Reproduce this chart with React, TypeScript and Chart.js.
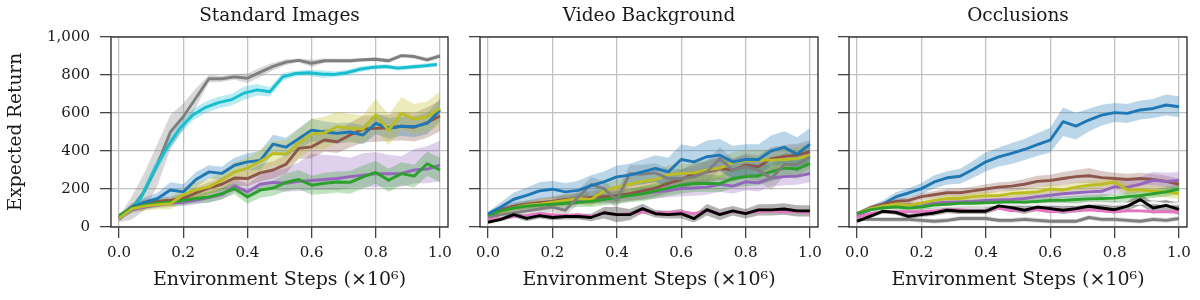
import React, { useEffect, useRef } from "react";
import { Chart, registerables } from "chart.js";

Chart.register(...registerables);

// ---------------- data ----------------
const steps = [0, 0.04, 0.08, 0.12, 0.16, 0.2, 0.24, 0.28, 0.32, 0.36, 0.4, 0.44, 0.48, 0.52, 0.56, 0.6, 0.64, 0.68, 0.72, 0.76, 0.8, 0.84, 0.88, 0.92, 0.96, 1.0];
const cyanSteps = [0.03, 0.07, 0.11, 0.15, 0.19, 0.23, 0.27, 0.31, 0.35, 0.39, 0.43, 0.47, 0.51, 0.55, 0.59, 0.63, 0.67, 0.71, 0.75, 0.79, 0.83, 0.87, 0.91, 0.95, 0.99];

const xTickValues = [0, 0.2, 0.4, 0.6, 0.8, 1.0];
const yTickValues = [0, 200, 400, 600, 800, 1000];
const yTickLabels = ["0", "200", "400", "600", "800", "1,000"];
const panelTitles = ["Standard Images", "Video Background", "Occlusions"];
const xAxisTitle = "Environment Steps (×10⁶)";
const yAxisTitle = "Expected Return";

// Standard Images
const stdGray = [40, 100, 190, 330, 500, 580, 680, 780, 780, 790, 783, 815, 845, 868, 877, 862, 875, 875, 875, 880, 883, 875, 902, 897, 880, 900];
const stdGraySpread = [15, 60, 100, 110, 90, 70, 50, 20, 15, 15, 25, 25, 20, 15, 10, 20, 12, 10, 10, 10, 10, 12, 10, 10, 12, 10];
const stdCyan = [75, 160, 300, 420, 520, 590, 630, 655, 670, 705, 722, 712, 790, 808, 812, 805, 803, 812, 830, 840, 845, 836, 842, 848, 855];
const stdCyanSpread = [10, 20, 30, 30, 30, 30, 30, 30, 30, 35, 30, 25, 20, 15, 15, 20, 15, 15, 15, 12, 12, 12, 12, 12, 12];
const stdBlue = [50, 105, 130, 150, 195, 185, 250, 290, 282, 325, 343, 350, 436, 420, 465, 510, 500, 493, 500, 484, 545, 519, 530, 528, 545, 616];
const stdBlueSpread = [10, 20, 25, 30, 40, 40, 40, 35, 35, 40, 45, 50, 50, 50, 55, 60, 55, 55, 50, 50, 55, 55, 50, 55, 55, 60];
const stdOlive = [45, 95, 110, 118, 122, 170, 195, 211, 246, 290, 310, 345, 387, 385, 440, 490, 495, 528, 520, 515, 590, 510, 598, 567, 580, 625];
const stdOliveSpread = [10, 20, 25, 25, 30, 35, 40, 40, 45, 50, 55, 60, 65, 70, 75, 80, 85, 80, 75, 75, 85, 80, 85, 80, 80, 90];
const stdBrown = [45, 106, 125, 135, 141, 150, 180, 205, 225, 258, 255, 285, 300, 330, 414, 422, 458, 449, 484, 515, 519, 522, 530, 525, 550, 584];
const stdBrownSpread = [10, 15, 20, 20, 20, 25, 30, 30, 35, 40, 40, 45, 45, 50, 55, 60, 60, 60, 65, 70, 70, 70, 75, 75, 80, 80];
const stdPurple = [45, 90, 105, 115, 125, 130, 140, 155, 170, 215, 185, 225, 235, 230, 240, 245, 250, 255, 265, 273, 280, 280, 282, 300, 305, 325];
const stdPurpleUp = [10, 15, 20, 20, 25, 25, 25, 30, 35, 40, 40, 50, 60, 80, 100, 140, 130, 120, 100, 115, 115, 100, 90, 110, 120, 130];
const stdPurpleDown = [10, 15, 15, 15, 20, 20, 20, 25, 25, 30, 30, 35, 40, 45, 50, 50, 55, 60, 60, 65, 70, 70, 70, 70, 75, 85];
const stdGreen = [60, 100, 115, 125, 130, 140, 150, 158, 176, 202, 158, 194, 205, 235, 250, 220, 230, 237, 235, 264, 287, 246, 281, 268, 333, 300];
const stdGreenSpread = [10, 15, 20, 20, 20, 25, 25, 30, 30, 30, 35, 40, 40, 45, 50, 50, 55, 55, 60, 60, 60, 60, 60, 60, 65, 65];

// Video Background
const vidBlue = [70, 105, 146, 167, 190, 199, 185, 193, 218, 237, 264, 273, 290, 308, 290, 355, 343, 370, 378, 343, 355, 355, 401, 419, 383, 436];
const vidBlueSpread = [10, 25, 35, 40, 45, 45, 45, 50, 55, 55, 60, 60, 65, 70, 75, 80, 80, 85, 85, 85, 80, 80, 80, 85, 90, 85];
const vidGray = [50, 65, 75, 85, 95, 105, 88, 158, 223, 202, 141, 281, 278, 285, 255, 255, 264, 290, 360, 299, 317, 299, 255, 329, 329, 370];
const vidGraySpread = [10, 15, 15, 20, 25, 25, 30, 35, 40, 40, 45, 45, 50, 50, 50, 50, 55, 60, 60, 60, 60, 60, 60, 60, 60, 60];
const vidBrown = [60, 90, 110, 120, 128, 135, 145, 150, 155, 160, 165, 175, 190, 205, 230, 250, 282, 290, 308, 300, 326, 317, 360, 372, 378, 396];
const vidBrownSpread = [10, 15, 20, 20, 25, 25, 30, 30, 35, 35, 40, 40, 45, 45, 50, 50, 55, 55, 60, 60, 60, 60, 60, 60, 60, 60];
const vidOlive = [60, 80, 100, 115, 120, 130, 140, 150, 145, 190, 210, 225, 240, 250, 275, 282, 285, 300, 310, 340, 350, 352, 352, 355, 360, 378];
const vidOliveSpread = [10, 15, 20, 20, 25, 25, 30, 30, 35, 35, 40, 40, 45, 45, 50, 50, 50, 55, 55, 55, 55, 55, 55, 55, 60, 60];
const vidGreen = [60, 85, 100, 110, 115, 120, 125, 130, 135, 145, 155, 165, 175, 190, 205, 220, 229, 230, 228, 255, 265, 270, 290, 310, 305, 335];
const vidGreenSpread = [10, 15, 15, 20, 20, 20, 25, 25, 30, 30, 35, 35, 40, 40, 40, 45, 45, 45, 45, 50, 50, 50, 50, 50, 50, 55];
const vidPurple = [60, 90, 105, 115, 125, 135, 140, 145, 150, 158, 165, 170, 178, 185, 192, 202, 205, 210, 225, 215, 238, 232, 258, 265, 268, 281];
const vidPurpleSpread = [10, 15, 15, 20, 20, 20, 25, 25, 25, 30, 30, 30, 35, 35, 35, 40, 40, 40, 40, 40, 45, 45, 45, 45, 45, 45];
const vidPink = [40, 45, 55, 60, 70, 65, 60, 65, 55, 75, 65, 70, 80, 75, 75, 80, 70, 85, 70, 80, 75, 80, 85, 80, 80, 75];
const vidPinkSpread = [5, 8, 8, 8, 8, 8, 8, 8, 8, 8, 8, 8, 8, 8, 8, 8, 8, 8, 8, 8, 8, 8, 8, 8, 8, 8];
const vidBlack = [25, 40, 65, 45, 60, 50, 55, 55, 50, 75, 65, 65, 97, 70, 65, 70, 44, 91, 65, 85, 70, 90, 90, 95, 85, 85];
const vidBlackSpread = [5, 10, 15, 15, 15, 15, 15, 15, 20, 30, 40, 30, 25, 20, 20, 25, 20, 30, 30, 25, 25, 30, 30, 30, 30, 30];

// Occlusions
const occBlue = [70, 97, 120, 158, 179, 202, 237, 259, 267, 303, 343, 369, 387, 408, 434, 457, 554, 531, 563, 589, 602, 598, 616, 624, 642, 633];
const occBlueSpread = [10, 15, 20, 25, 25, 30, 35, 35, 40, 45, 50, 50, 55, 55, 60, 65, 75, 70, 60, 55, 50, 50, 50, 50, 55, 55];
const occBrown = [70, 100, 120, 135, 140, 160, 170, 180, 180, 190, 200, 210, 215, 225, 240, 245, 255, 265, 270, 260, 255, 250, 255, 250, 240, 225];
const occBrownSpread = [8, 10, 12, 15, 15, 18, 20, 20, 22, 22, 25, 25, 25, 28, 30, 30, 35, 35, 40, 35, 30, 30, 30, 30, 30, 30];
const occOlive = [70, 95, 110, 120, 115, 125, 140, 150, 150, 160, 165, 165, 176, 180, 185, 200, 195, 210, 220, 225, 237, 195, 195, 190, 185, 176];
const occOliveSpread = [8, 10, 12, 12, 15, 15, 15, 18, 18, 20, 20, 20, 22, 22, 25, 25, 25, 25, 25, 25, 30, 30, 30, 30, 30, 30];
const occPurple = [60, 90, 110, 115, 118, 120, 125, 130, 132, 135, 140, 142, 145, 150, 160, 167, 175, 180, 185, 188, 212, 210, 225, 246, 240, 245];
const occPurpleSpread = [8, 10, 12, 12, 15, 15, 15, 15, 18, 18, 20, 20, 20, 22, 22, 25, 25, 25, 30, 30, 35, 35, 40, 45, 45, 45];
const occGreen = [70, 90, 100, 105, 100, 105, 115, 120, 125, 125, 128, 130, 132, 130, 135, 140, 140, 145, 148, 150, 152, 160, 165, 175, 185, 200];
const occGreenSpread = [8, 10, 12, 12, 12, 15, 15, 15, 15, 18, 18, 18, 18, 20, 20, 20, 20, 20, 20, 22, 22, 22, 22, 22, 25, 25];
const occLight = [70, 85, 95, 100, 105, 105, 110, 110, 115, 115, 115, 120, 120, 120, 118, 120, 120, 118, 125, 125, 120, 122, 125, 128, 120, 122];
const occLightSpread = [8, 10, 12, 12, 12, 15, 15, 15, 15, 15, 15, 15, 15, 15, 15, 15, 15, 15, 15, 15, 15, 15, 15, 15, 15, 15];
const occPink = [50, 70, 80, 80, 80, 80, 85, 90, 90, 85, 85, 100, 85, 90, 90, 80, 85, 85, 90, 85, 80, 85, 85, 80, 80, 80];
const occPinkSpread = [5, 8, 8, 8, 8, 8, 8, 8, 8, 8, 8, 8, 8, 8, 8, 8, 8, 8, 8, 8, 8, 8, 8, 8, 8, 8];
const occBlack = [30, 56, 83, 77, 56, 65, 74, 88, 83, 83, 83, 111, 102, 88, 105, 97, 88, 97, 109, 100, 91, 110, 144, 100, 114, 93];
const occBlackSpread = [5, 10, 12, 12, 12, 12, 15, 15, 15, 15, 15, 20, 20, 20, 20, 20, 20, 20, 20, 20, 20, 25, 30, 30, 30, 30];
const occGray = [40, 40, 40, 40, 40, 35, 30, 35, 45, 45, 45, 35, 35, 40, 35, 30, 30, 30, 50, 40, 40, 35, 30, 40, 35, 45];
const occGraySpread = [8, 10, 12, 12, 12, 12, 12, 12, 12, 12, 12, 12, 12, 12, 12, 12, 12, 12, 12, 12, 12, 12, 12, 12, 12, 12];

// ---------------- styles ----------------
const C = {
  blue: "31,119,180",
  brown: "140,86,75",
  pink: "227,119,194",
  gray: "127,127,127",
  olive: "188,189,34",
  cyan: "23,190,207",
  green: "44,160,44",
  purple: "148,103,189",
  black: "0,0,0",
  light: "240,240,240",
};

type Series = { rgb: string; band?: string; xs: number[]; mean: number[]; up: number[]; down?: number[] };

// listed top-most first
const panels: Series[][] = [
  [
    { rgb: C.olive, xs: steps, mean: stdOlive, up: stdOliveSpread },
    { rgb: C.green, xs: steps, mean: stdGreen, up: stdGreenSpread },
    { rgb: C.blue, xs: steps, mean: stdBlue, up: stdBlueSpread },
    { rgb: C.brown, xs: steps, mean: stdBrown, up: stdBrownSpread },
    { rgb: C.purple, xs: steps, mean: stdPurple, up: stdPurpleUp, down: stdPurpleDown },
    { rgb: C.cyan, xs: cyanSteps, mean: stdCyan, up: stdCyanSpread },
    { rgb: C.gray, xs: steps, mean: stdGray, up: stdGraySpread },
  ],
  [
    { rgb: C.black, xs: steps, mean: vidBlack, up: vidBlackSpread },
    { rgb: C.pink, xs: steps, mean: vidPink, up: vidPinkSpread },
    { rgb: C.blue, xs: steps, mean: vidBlue, up: vidBlueSpread },
    { rgb: C.gray, xs: steps, mean: vidGray, up: vidGraySpread },
    { rgb: C.green, xs: steps, mean: vidGreen, up: vidGreenSpread },
    { rgb: C.olive, xs: steps, mean: vidOlive, up: vidOliveSpread },
    { rgb: C.brown, xs: steps, mean: vidBrown, up: vidBrownSpread },
    { rgb: C.purple, xs: steps, mean: vidPurple, up: vidPurpleSpread },
  ],
  [
    { rgb: C.black, xs: steps, mean: occBlack, up: occBlackSpread },
    { rgb: C.pink, xs: steps, mean: occPink, up: occPinkSpread },
    { rgb: C.green, xs: steps, mean: occGreen, up: occGreenSpread },
    { rgb: C.olive, xs: steps, mean: occOlive, up: occOliveSpread },
    { rgb: C.purple, xs: steps, mean: occPurple, up: occPurpleSpread },
    { rgb: C.brown, xs: steps, mean: occBrown, up: occBrownSpread },
    { rgb: C.blue, xs: steps, mean: occBlue, up: occBlueSpread },
    { rgb: C.light, band: C.gray, xs: steps, mean: occLight, up: occLightSpread },
    { rgb: C.gray, xs: steps, mean: occGray, up: occGraySpread },
  ],
];

const areas = [
  { left: 111, right: 448 },
  { left: 480, right: 818 },
  { left: 849, right: 1187 },
];

const FONT = "'DejaVu Serif', serif";
const TEXT = "#1a1a1a";

const framePlugin = {
  id: "frame",
  afterDatasetsDraw(chart: any) {
    const { ctx, chartArea: a } = chart;
    ctx.save();
    ctx.strokeStyle = "#333333";
    ctx.lineWidth = 1.4;
    ctx.strokeRect(a.left, a.top, a.right - a.left, a.bottom - a.top);
    ctx.restore();
  },
};

function buildConfig(idx: number): any {
  const series = panels[idx];
  const datasets: any[] = [];
  series.forEach((s, k) => {
    const down = s.down || s.up;
    const bandRgb = s.band || s.rgb;
    datasets.push({
      data: s.xs.map((x, i) => ({ x, y: s.mean[i] + s.up[i] })),
      borderWidth: 0,
      borderColor: "rgba(0,0,0,0)",
      backgroundColor: `rgba(${bandRgb},0.3)`,
      pointRadius: 0,
      fill: "+1",
      order: 100 + k,
    });
    datasets.push({
      data: s.xs.map((x, i) => ({ x, y: s.mean[i] - down[i] })),
      borderWidth: 0,
      borderColor: "rgba(0,0,0,0)",
      pointRadius: 0,
      fill: false,
      order: 100 + k,
    });
  });
  series.forEach((s, k) => {
    datasets.push({
      data: s.xs.map((x, i) => ({ x, y: s.mean[i] })),
      borderColor: `rgb(${s.rgb})`,
      borderWidth: 2.9,
      borderJoinStyle: "round",
      pointRadius: 0,
      fill: false,
      tension: 0,
      order: k,
    });
  });

  const area = areas[idx];
  const first = idx === 0;
  const gridOpts = { color: "#c2c2c2", lineWidth: 1.3, tickLength: 11, tickColor: "#444444", tickWidth: 1.3 };

  return {
    type: "line",
    data: { datasets },
    plugins: [framePlugin],
    options: {
      responsive: false,
      animation: false,
      events: [],
      layout: { padding: { left: 0, right: 1200 - area.right, top: 0, bottom: 0 } },
      plugins: {
        legend: { display: false },
        tooltip: { enabled: false },
        filler: { drawTime: "beforeDatasetsDraw" },
        title: {
          display: true,
          text: panelTitles[idx],
          fullSize: false,
          color: TEXT,
          font: { family: FONT, size: 18.5, weight: "normal" },
          padding: { top: 5.4, bottom: 9.4 },
        },
      },
      scales: {
        x: {
          type: "linear",
          min: -0.025,
          max: 1.025,
          afterBuildTicks: (s: any) => {
            s.ticks = xTickValues.map((v) => ({ value: v }));
          },
          afterFit: (s: any) => {
            s.height = 73;
            s.paddingLeft = 0;
            s.paddingRight = 0;
          },
          ticks: {
            callback: (v: number) => Number(v).toFixed(1),
            color: TEXT,
            font: { family: FONT, size: 15 },
            padding: 6,
            maxRotation: 0,
            autoSkip: false,
          },
          grid: gridOpts,
          border: { display: false },
          title: {
            display: true,
            text: xAxisTitle,
            color: TEXT,
            font: { family: FONT, size: 19 },
            padding: { top: 0, bottom: 8.6 },
          },
        },
        y: {
          type: "linear",
          min: 0,
          max: 1000,
          afterBuildTicks: (s: any) => {
            s.ticks = yTickValues.map((v) => ({ value: v }));
          },
          afterFit: (s: any) => {
            s.width = area.left;
            s.paddingTop = 0;
            s.paddingBottom = 0;
          },
          ticks: {
            display: first,
            callback: (v: number) => yTickLabels[yTickValues.indexOf(Number(v))],
            color: TEXT,
            font: { family: FONT, size: 15 },
            padding: 10,
          },
          grid: gridOpts,
          border: { display: false },
          title: {
            display: first,
            text: yAxisTitle,
            color: TEXT,
            font: { family: FONT, size: 18.5 },
            padding: { top: 4.9, bottom: 0 },
          },
        },
      },
    },
  };
}

export default function App() {
  const r0 = useRef<HTMLCanvasElement>(null);
  const r1 = useRef<HTMLCanvasElement>(null);
  const r2 = useRef<HTMLCanvasElement>(null);
  const refs = [r0, r1, r2];

  useEffect(() => {
    const charts = refs.map((r, i) => new Chart(r.current as HTMLCanvasElement, buildConfig(i)));
    return () => charts.forEach((c) => c.destroy());
  }, []);

  return (
    <div style={{ position: "fixed", left: 0, top: 0, width: 1200, height: 300, background: "#ffffff" }}>
      {refs.map((r, i) => (
        <canvas
          key={i}
          ref={r}
          width={1200}
          height={300}
          style={{ position: "absolute", left: 0, top: 0, width: 1200, height: 300 }}
        />
      ))}
    </div>
  );
}
